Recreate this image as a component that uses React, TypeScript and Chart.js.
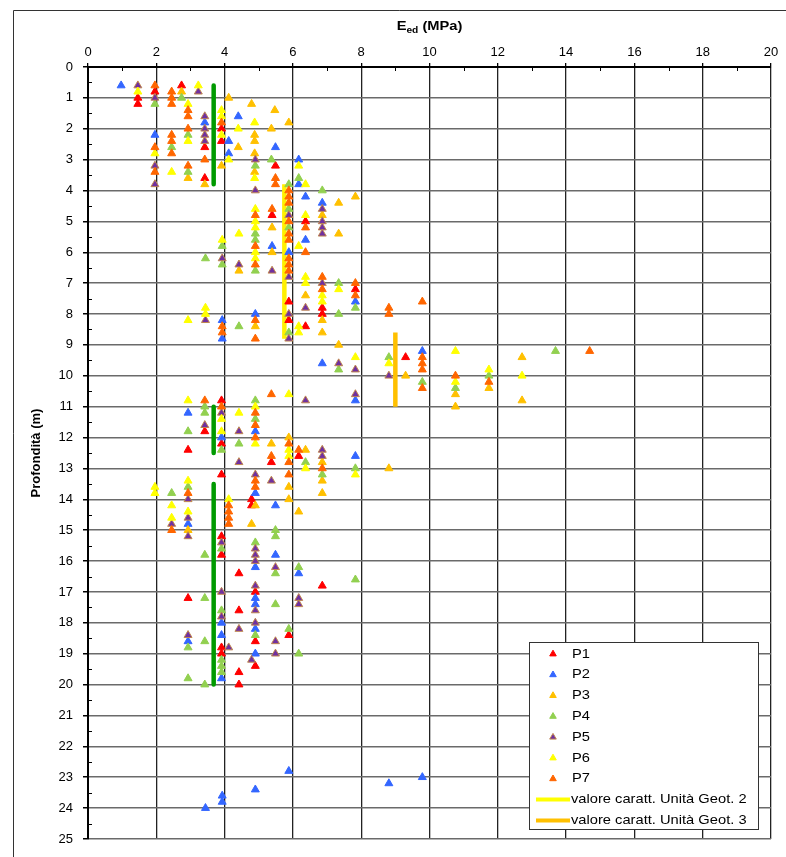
import React, { useEffect, useRef } from 'react';
import { Chart, registerables } from 'chart.js';

Chart.register(...registerables);

// ---------- data: [Eed (MPa), depth (m)] ----------
const P1: [number, number][] = [
  [2.74, 0.6], [1.96, 0.8], [1.46, 1.0], [1.46, 1.2], [3.91, 2.0], [3.91, 2.4], [3.42, 2.6], [5.49, 3.2], [3.42, 3.6],
  [5.39, 4.8], [6.37, 5.0], [7.83, 7.2], [5.88, 7.6], [6.86, 7.8], [6.86, 8.0], [5.88, 8.2], [6.37, 8.4], [9.3, 9.4],
  [3.91, 10.8], [3.42, 11.8], [3.91, 12.2], [2.93, 12.4], [6.17, 12.6], [5.37, 12.8], [3.91, 13.2], [4.79, 14.0],
  [4.79, 14.2], [3.91, 15.2], [3.91, 15.8], [4.42, 16.4], [6.86, 16.8], [4.9, 17.0], [2.93, 17.2], [4.42, 17.6],
  [5.88, 18.4], [4.9, 18.6], [3.91, 18.8], [3.91, 19.0], [4.9, 19.4], [4.42, 19.6], [4.42, 20.0],
];
const P2: [number, number][] = [
  [0.97, 0.6], [4.4, 1.6], [3.42, 1.8], [1.96, 2.2], [4.12, 2.4], [5.49, 2.6], [4.12, 2.8], [6.17, 3.0], [6.17, 3.8],
  [6.37, 4.2], [6.86, 4.4], [6.37, 5.6], [5.39, 5.8], [5.88, 6.0], [7.83, 7.6], [4.9, 8.0], [3.93, 8.2], [3.93, 8.8],
  [9.79, 9.2], [6.86, 9.6], [7.83, 10.8], [2.93, 11.2], [4.9, 11.8], [3.91, 12.0], [7.83, 12.6], [4.9, 13.8],
  [5.49, 14.2], [2.93, 14.8], [5.49, 15.8], [4.9, 16.2], [6.17, 16.4], [4.9, 17.2], [4.9, 17.4], [3.91, 18.0],
  [4.9, 18.2], [3.91, 18.4], [2.93, 18.6], [4.9, 19.0], [3.91, 19.8], [5.88, 22.8], [9.79, 23.0], [8.81, 23.2],
  [4.9, 23.4], [3.93, 23.6], [3.93, 23.8], [3.44, 24.0],
];
const P3: [number, number][] = [
  [2.74, 0.8], [4.12, 1.0], [4.79, 1.2], [5.47, 1.4], [5.88, 1.8], [5.37, 2.0], [4.88, 2.2], [4.88, 2.4], [4.4, 2.6],
  [4.88, 2.8], [3.91, 3.2], [4.88, 3.4], [2.93, 3.6], [3.42, 3.8], [7.83, 4.2], [7.34, 4.4], [6.86, 4.8], [5.39, 5.2],
  [7.34, 5.4], [5.39, 6.0], [4.42, 6.6], [6.37, 7.4], [6.86, 8.2], [4.9, 8.4], [6.86, 8.6], [7.34, 9.0], [12.71, 9.4],
  [9.3, 10.0], [11.74, 10.4], [10.76, 10.6], [12.71, 10.8], [10.76, 11.0], [5.88, 12.0], [5.37, 12.2], [6.37, 12.4],
  [6.86, 12.8], [8.81, 13.0], [6.86, 13.4], [5.88, 13.6], [6.86, 13.8], [5.88, 14.0], [4.9, 14.2], [6.17, 14.4],
  [4.79, 14.8], [2.93, 15.0],
];
const P4: [number, number][] = [
  [2.74, 1.0], [1.96, 1.2], [2.93, 2.2], [2.45, 2.6], [5.37, 3.0], [4.9, 3.2], [2.93, 3.4], [6.17, 3.6], [5.88, 3.8],
  [6.86, 4.0], [5.88, 4.6], [5.88, 5.2], [4.9, 5.4], [4.9, 5.6], [3.93, 5.8], [3.44, 6.2], [3.93, 6.4], [4.9, 6.6],
  [7.34, 7.0], [7.83, 7.8], [7.34, 8.0], [4.42, 8.4], [5.88, 8.6], [13.69, 9.2], [8.81, 9.4], [7.34, 9.8], [11.74, 10.0],
  [9.79, 10.2], [10.76, 10.4], [4.9, 10.8], [3.42, 11.0], [3.42, 11.2], [4.9, 11.4], [2.93, 11.8], [4.42, 12.2],
  [3.91, 12.4], [6.37, 12.8], [7.83, 13.0], [6.86, 13.2], [2.93, 13.6], [2.45, 13.8], [5.49, 15.0], [5.49, 15.2],
  [4.9, 15.4], [3.91, 15.6], [3.42, 15.8], [6.17, 16.2], [5.49, 16.4], [7.83, 16.6], [3.42, 17.2], [5.49, 17.4],
  [3.91, 17.6], [5.88, 18.2], [4.9, 18.4], [3.42, 18.6], [2.93, 18.8], [6.17, 19.0], [3.91, 19.2], [3.91, 19.4],
  [3.91, 19.6], [2.93, 19.8], [3.42, 20.0],
];
const P5: [number, number][] = [
  [1.46, 0.6], [3.23, 0.8], [1.96, 1.0], [3.42, 1.6], [3.42, 2.0], [3.42, 2.2], [3.42, 2.4], [4.9, 3.0], [1.96, 3.2],
  [1.96, 3.8], [4.9, 4.0], [6.86, 4.6], [5.88, 4.8], [6.86, 5.0], [6.86, 5.2], [6.86, 5.4], [3.93, 6.2], [4.42, 6.4],
  [5.39, 6.6], [5.88, 6.8], [6.86, 7.0], [6.37, 7.8], [5.88, 8.0], [3.44, 8.2], [5.88, 8.8], [7.34, 9.6], [7.83, 9.8],
  [8.81, 10.0], [7.83, 10.6], [6.37, 10.8], [3.91, 11.2], [3.42, 11.6], [4.42, 11.8], [6.86, 12.4], [6.86, 12.6],
  [4.42, 12.8], [4.9, 13.2], [5.37, 13.4], [2.93, 14.0], [2.93, 14.6], [2.45, 14.8], [2.93, 15.2], [3.91, 15.4],
  [4.9, 15.6], [4.9, 15.8], [4.9, 16.0], [5.49, 16.2], [4.9, 16.8], [3.91, 17.0], [6.17, 17.2], [6.17, 17.4],
  [4.9, 17.6], [3.91, 17.8], [4.9, 18.0], [4.42, 18.2], [2.93, 18.4], [5.49, 18.6], [4.12, 18.8], [5.49, 19.0],
  [4.79, 19.2],
];
const P6: [number, number][] = [
  [3.23, 0.6], [1.46, 0.8], [2.93, 1.2], [3.91, 1.4], [3.91, 1.6], [4.88, 1.8], [4.4, 2.0], [3.91, 2.2], [2.93, 2.4],
  [1.96, 2.8], [4.12, 3.0], [6.17, 3.2], [2.45, 3.4], [4.88, 3.6], [6.37, 3.8], [4.9, 4.6], [6.37, 4.8], [4.9, 5.0],
  [4.9, 5.2], [4.42, 5.4], [3.93, 5.6], [6.17, 5.8], [4.9, 6.0], [4.9, 6.2], [6.37, 6.8], [6.37, 7.0], [7.34, 7.2],
  [6.86, 7.4], [6.86, 7.6], [3.44, 7.8], [3.44, 8.0], [2.93, 8.2], [6.17, 8.4], [6.17, 8.6], [10.76, 9.2], [7.83, 9.4],
  [8.81, 9.6], [11.74, 9.8], [12.71, 10.0], [10.76, 10.2], [5.88, 10.6], [2.93, 10.8], [4.9, 11.0], [4.42, 11.2],
  [3.91, 11.4], [3.91, 11.8], [4.9, 12.2], [5.88, 12.4], [5.88, 12.6], [6.37, 13.0], [7.83, 13.2], [2.93, 13.4],
  [1.96, 13.6], [1.96, 13.8], [4.12, 14.0], [2.45, 14.2], [2.93, 14.4], [2.45, 14.6],
];
const P7: [number, number][] = [
  [1.96, 0.6], [2.45, 0.8], [2.45, 1.0], [2.45, 1.2], [2.93, 1.4], [2.93, 1.6], [3.91, 1.8], [2.93, 2.0], [2.45, 2.2],
  [2.45, 2.4], [1.96, 2.6], [2.45, 2.8], [3.42, 3.0], [2.93, 3.2], [1.96, 3.4], [5.49, 3.6], [5.49, 3.8], [5.88, 4.0],
  [5.88, 4.2], [5.88, 4.4], [5.39, 4.6], [4.9, 4.8], [5.88, 5.0], [6.37, 5.2], [5.88, 5.4], [5.88, 5.6], [4.9, 5.8],
  [6.37, 6.0], [5.88, 6.2], [4.9, 6.4], [5.88, 6.4], [5.88, 6.6], [6.86, 6.8], [7.83, 7.0], [6.86, 7.2], [7.83, 7.4],
  [9.79, 7.6], [8.81, 7.8], [8.81, 8.0], [4.9, 8.2], [3.93, 8.4], [3.93, 8.6], [4.9, 8.8], [14.69, 9.2], [9.79, 9.4],
  [9.79, 9.6], [9.79, 9.8], [10.76, 10.0], [11.74, 10.2], [9.79, 10.4], [5.37, 10.6], [3.42, 10.8], [3.91, 11.0],
  [4.9, 11.2], [4.9, 11.6], [4.9, 12.0], [5.88, 12.2], [6.17, 12.4], [5.37, 12.6], [5.88, 12.8], [6.86, 13.0],
  [5.88, 13.2], [4.9, 13.4], [4.9, 13.6], [2.93, 13.8], [4.12, 14.2], [4.12, 14.4], [4.12, 14.6], [4.12, 14.8],
  [2.45, 15.0],
];

// characteristic values: [Eed, depth top, depth bottom]
const GREEN_LINES: [number, number, number][] = [
  [3.68, 0.6, 3.8],
  [3.68, 11.0, 12.5],
  [3.68, 13.5, 20.0],
];
const GEOT2_LINE: [number, number, number] = [5.75, 3.8, 8.8];
const GEOT3_LINE: [number, number, number] = [9.0, 8.6, 11.0];

const SERIES_LABELS = ['P1', 'P2', 'P3', 'P4', 'P5', 'P6', 'P7'];
const SERIES_DATA = [P1, P2, P3, P4, P5, P6, P7];
const SERIES_FILL = ['#FF0000', '#3366FF', '#FFC000', '#92D050', '#7030A0', '#FFFF00', '#FF6600'];
const SERIES_BORDER = ['#FF0000', '#3366FF', '#FFC000', '#92D050', '#C0874F', '#FFFF00', '#FF6600'];
const LINE_LABELS = ['valore caratt. Unità Geot. 2', 'valore caratt. Unità Geot. 3'];
const LINE_COLORS = ['#FFFF00', '#FFC000'];
const GREEN = '#009A00';

const X_TICKS_MAX = 20;
const Y_TICKS_MAX = 25;

const FONT = '"Liberation Sans", Arial, Helvetica, sans-serif';
const STRETCH = 1.13;

function tri(ctx: CanvasRenderingContext2D, x: number, y: number, r: number, fill: string, stroke: string) {
  ctx.beginPath();
  ctx.moveTo(x, y - r);
  ctx.lineTo(x + r * Math.sin((2 * Math.PI) / 3), y - r * Math.cos((2 * Math.PI) / 3));
  ctx.lineTo(x + r * Math.sin((4 * Math.PI) / 3), y - r * Math.cos((4 * Math.PI) / 3));
  ctx.closePath();
  ctx.fillStyle = fill;
  ctx.fill();
  ctx.strokeStyle = stroke;
  ctx.lineWidth = 1;
  ctx.stroke();
}

const decorPlugin = {
  id: 'decor',
  beforeDraw(chart: any) {
    const ctx = chart.ctx as CanvasRenderingContext2D;
    ctx.save();
    ctx.fillStyle = '#fff';
    ctx.fillRect(0, 0, chart.width, chart.height);
    ctx.strokeStyle = '#333';
    ctx.lineWidth = 1;
    ctx.beginPath();
    ctx.moveTo(13.5, chart.height);
    ctx.lineTo(13.5, 10.5);
    ctx.lineTo(chart.width, 10.5);
    ctx.stroke();
    ctx.restore();
  },
  afterDraw(chart: any) {
    const ctx = chart.ctx as CanvasRenderingContext2D;
    const xs = chart.scales.x;
    const ys = chart.scales.y;
    const area = chart.chartArea;
    ctx.save();
    // minor inside ticks
    ctx.strokeStyle = '#000';
    ctx.lineWidth = 1;
    ctx.beginPath();
    for (let v = 1; v < X_TICKS_MAX; v += 2) {
      const px = Math.round(xs.getPixelForValue(v)) + 0.5;
      ctx.moveTo(px, area.top);
      ctx.lineTo(px, area.top + 4);
    }
    for (let v = 0.5; v < Y_TICKS_MAX; v += 1) {
      const py = Math.round(ys.getPixelForValue(v)) + 0.5;
      ctx.moveTo(area.left, py);
      ctx.lineTo(area.left + 4, py);
    }
    ctx.stroke();

    // x axis title with subscript
    const cx = (area.left + area.right) / 2;
    ctx.fillStyle = '#000';
    ctx.textBaseline = 'alphabetic';
    ctx.textAlign = 'left';
    ctx.font = `bold 13px ${FONT}`;
    const wE = ctx.measureText('E').width;
    const wRest = ctx.measureText(' (MPa)').width;
    ctx.font = `bold 9px ${FONT}`;
    const wSub = ctx.measureText('ed').width;
    const total = (wE + wSub + wRest) * STRETCH;
    ctx.save();
    ctx.translate(cx - total / 2, 30);
    ctx.scale(STRETCH, 1);
    ctx.font = `bold 13px ${FONT}`;
    ctx.fillText('E', 0, 0);
    ctx.font = `bold 9px ${FONT}`;
    ctx.fillText('ed', wE, 3);
    ctx.font = `bold 13px ${FONT}`;
    ctx.fillText(' (MPa)', wE + wSub, 0);
    ctx.restore();

    // y axis title
    ctx.save();
    ctx.translate(40, (area.top + area.bottom) / 2);
    ctx.rotate(-Math.PI / 2);
    ctx.textAlign = 'center';
    ctx.font = `bold 13px "Liberation Sans Narrow", "Arial Narrow", ${FONT}`;
    ctx.fillText('Profondità (m)', 0, 0);
    ctx.restore();

    // legend
    const bx = 529.5, by = 642.5, bw = 229, bh = 187;
    ctx.fillStyle = '#fff';
    ctx.fillRect(bx, by, bw, bh);
    ctx.strokeStyle = '#333';
    ctx.lineWidth = 1;
    ctx.strokeRect(bx, by, bw, bh);
    const rowH = 20.8;
    const y0 = 653;
    ctx.textBaseline = 'middle';
    ctx.textAlign = 'left';
    SERIES_LABELS.forEach((lab, i) => {
      const y = y0 + i * rowH;
      tri(ctx, 553, y + 1, 3.8, SERIES_FILL[i], SERIES_BORDER[i]);
      ctx.save();
      ctx.translate(572, y + 1);
      ctx.scale(STRETCH, 1);
      ctx.fillStyle = '#000';
      ctx.font = `13px ${FONT}`;
      ctx.fillText(lab, 0, 0);
      ctx.restore();
    });
    LINE_LABELS.forEach((lab, j) => {
      const y = y0 + (7 + j) * rowH;
      ctx.strokeStyle = LINE_COLORS[j];
      ctx.lineWidth = 4;
      ctx.beginPath();
      ctx.moveTo(536, y + 1);
      ctx.lineTo(570, y + 1);
      ctx.stroke();
      ctx.save();
      ctx.translate(571, y + 1);
      ctx.scale(STRETCH, 1);
      ctx.fillStyle = '#000';
      ctx.font = `13px ${FONT}`;
      ctx.fillText(lab, 0, 0);
      ctx.restore();
    });
    ctx.restore();
  },
};

function segment(seg: [number, number, number]) {
  return [
    { x: seg[0], y: seg[1] },
    { x: seg[0], y: seg[2] },
  ];
}

export default function App() {
  const ref = useRef<HTMLCanvasElement>(null);
  useEffect(() => {
    const canvas = ref.current;
    if (!canvas) return;
    const lineSets: any[] = [
      ...GREEN_LINES.map((s) => ({
        label: '',
        data: segment(s),
        showLine: true,
        borderColor: GREEN,
        borderWidth: 4.5,
        borderCapStyle: 'round',
        pointRadius: 0,
        order: 20,
      })),
      {
        label: LINE_LABELS[0],
        data: segment(GEOT2_LINE),
        showLine: true,
        borderColor: '#FFF000',
        borderWidth: 4.5,
        pointRadius: 0,
        order: 20,
      },
      {
        label: LINE_LABELS[1],
        data: segment(GEOT3_LINE),
        showLine: true,
        borderColor: LINE_COLORS[1],
        borderWidth: 4.5,
        pointRadius: 0,
        order: 20,
      },
    ];
    const pointSets = SERIES_DATA.map((arr, i) => ({
      label: SERIES_LABELS[i],
      data: arr.map(([x, y]) => ({ x, y })),
      pointStyle: 'triangle',
      pointRadius: 4.6,
      pointBorderWidth: 1,
      backgroundColor: SERIES_FILL[i],
      borderColor: SERIES_BORDER[i],
      showLine: false,
      order: 10 - i,
    }));
    const chart = new Chart(canvas, {
      type: 'scatter',
      data: { datasets: [...lineSets, ...pointSets] },
      options: {
        responsive: false,
        animation: false,
        devicePixelRatio: 1,
        layout: { padding: { left: 0, top: 0, right: 15, bottom: 18 } },
        plugins: { legend: { display: false }, tooltip: { enabled: false }, title: { display: false } },
        scales: {
          x: {
            type: 'linear',
            position: 'top',
            min: 0,
            max: X_TICKS_MAX,
            afterFit: (s: any) => {
              s.height = 67;
            },
            ticks: {
              stepSize: 1,
              autoSkip: false,
              maxRotation: 0,
              padding: 3,
              color: '#000',
              font: { family: FONT, size: 13 },
              callback: (v: any) => (Math.round(v) % 2 === 0 ? String(v) : ''),
            },
            grid: {
              color: (c: any) => (c.tick && Math.round(c.tick.value) % 2 === 0 ? '#222' : 'rgba(0,0,0,0)'),
              tickColor: (c: any) => (c.tick && Math.round(c.tick.value) % 2 === 0 ? '#000' : 'rgba(0,0,0,0)'),
              lineWidth: 1.3,
              tickLength: 4,
            },
            border: { color: '#000', width: 2 },
          },
          y: {
            type: 'linear',
            position: 'left',
            reverse: true,
            min: 0,
            max: Y_TICKS_MAX,
            afterFit: (s: any) => {
              s.width = 88;
            },
            ticks: {
              stepSize: 0.5,
              autoSkip: false,
              padding: 10,
              color: '#000',
              font: { family: FONT, size: 13 },
              callback: (v: any) => (Number.isInteger(v) ? String(v) : ''),
            },
            grid: {
              color: (c: any) => (c.tick && Number.isInteger(c.tick.value) ? '#6a6a6a' : 'rgba(0,0,0,0)'),
              tickColor: (c: any) => (c.tick && Number.isInteger(c.tick.value) ? '#000' : 'rgba(0,0,0,0)'),
              lineWidth: 1.5,
              tickLength: 5,
            },
            border: { color: '#000', width: 2 },
          },
        },
      },
      plugins: [decorPlugin],
    } as any);
    return () => chart.destroy();
  }, []);
  return (
    <div style={{ position: 'absolute', left: 0, top: 0, width: 786, height: 857 }}>
      <canvas ref={ref} width={786} height={857} style={{ width: 786, height: 857, display: 'block' }} />
    </div>
  );
}
